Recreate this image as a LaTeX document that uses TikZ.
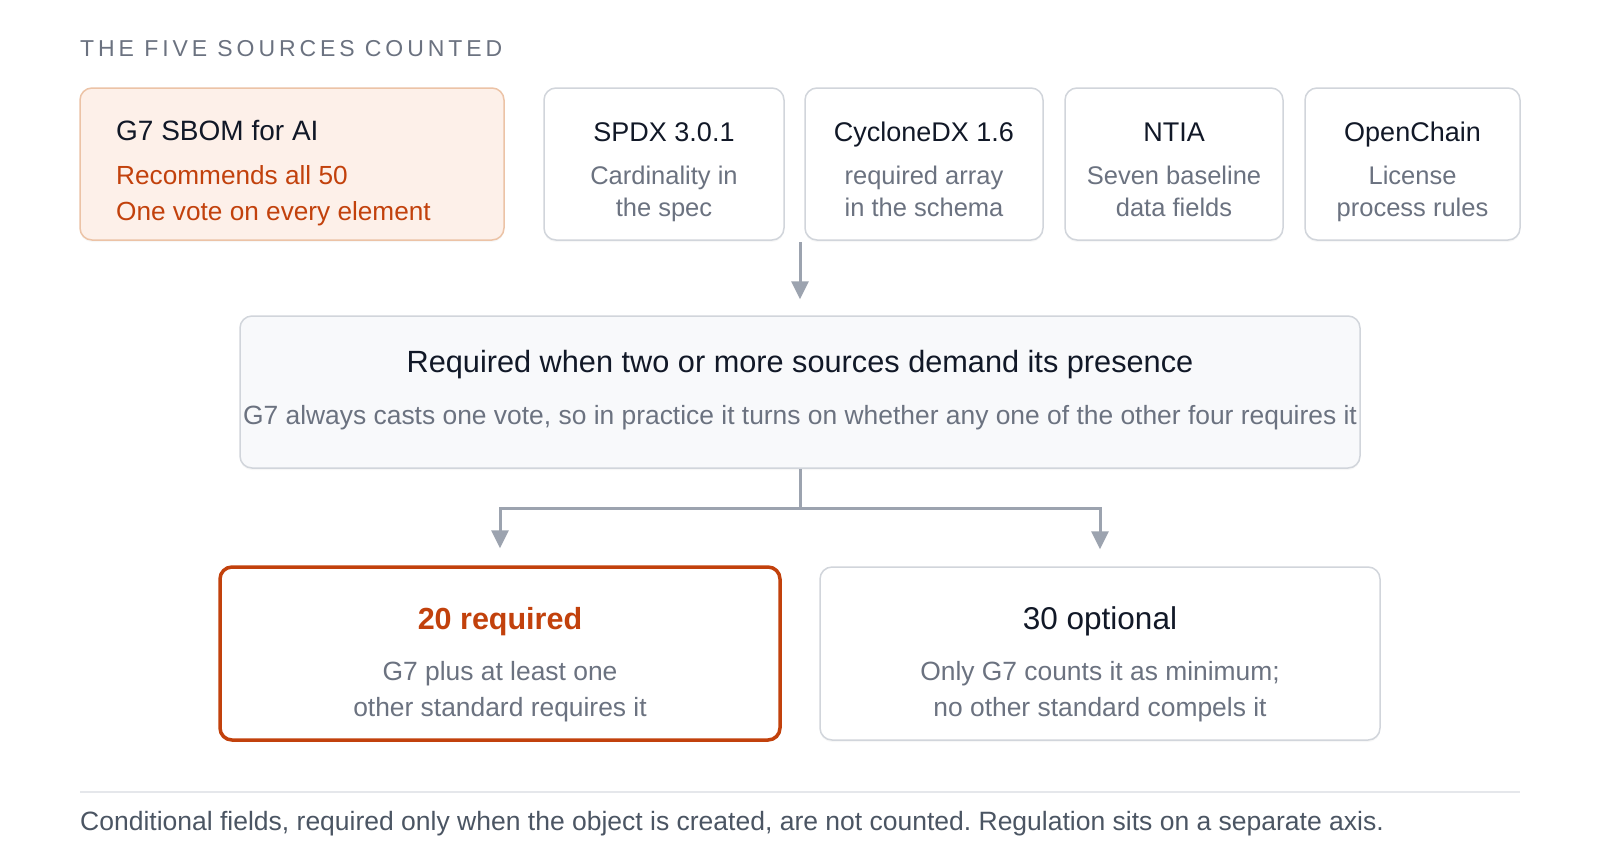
\documentclass[tikz,border=0pt]{standalone}
\usepackage{fontspec}
\setmainfont{Liberation Sans}
\usetikzlibrary{arrows.meta,shadows}
\definecolor{ink}{HTML}{111827}
\definecolor{muted}{HTML}{6B7280}
\definecolor{hot}{HTML}{C2410C}
\definecolor{hotfill}{HTML}{FDF0E9}
\definecolor{hotedge}{HTML}{ECC3A6}
\definecolor{edge}{HTML}{D1D5DB}
\definecolor{panel}{HTML}{F8F9FB}
\definecolor{wire}{HTML}{9CA3AF}
\definecolor{rulegray}{HTML}{E5E7EB}
\definecolor{foot}{HTML}{4B5563}
\frenchspacing
\begin{document}
\begin{tikzpicture}[x=1pt,y=-1pt,
  box/.style={draw=edge,line width=1.5pt,rounded corners=12pt,fill=white,
    minimum height=152pt,inner sep=0pt,
    drop shadow={shadow xshift=0pt,shadow yshift=-2pt,opacity=.06}},
  ttl/.style={anchor=base,inner sep=0pt,text=ink,font=\fontsize{27}{32}\selectfont},
  sub/.style={anchor=base,inner sep=0pt,text=muted,font=\fontsize{25.5}{30}\selectfont},
  conn/.style={draw=wire,line width=3pt},
  arr/.style={conn,-{Triangle[length=18pt,width=17pt]}}]
\fill[white] (0,0) rectangle (1600,860);
\node[anchor=base west,inner sep=0pt,text=muted,
  font=\fontsize{23}{26}\selectfont\addfontfeature{LetterSpace=17}] (hdr) at (80,56) {THE FIVE SOURCES COUNTED};
\node[box,draw=hotedge,fill=hotfill,minimum width=424pt] (g7) at (292,164) {};
\node[ttl,anchor=base west,font=\fontsize{28}{32}\selectfont] (g7t) at (116,140) {G7 SBOM for AI};
\node[sub,anchor=base west,text=hot,font=\fontsize{26.2}{30}\selectfont] (g7a) at (116,184) {Recommends all 50};
\node[sub,anchor=base west,text=hot,font=\fontsize{26.2}{30}\selectfont] (g7b) at (116,220) {One vote on every element};
\node[box,minimum width=240pt] (spdx) at (664,164) {};
\node[ttl] (spdxt) at (664,141) {SPDX 3.0.1};
\node[sub] (spdxa) at (664,184) {Cardinality in};
\node[sub] (spdxb) at (664,216) {the spec};
\node[box,minimum width=238pt] (cdx) at (924,164) {};
\node[ttl] (cdxt) at (924,141) {CycloneDX 1.6};
\node[sub] (cdxa) at (924,184) {required array};
\node[sub] (cdxb) at (924,216) {in the schema};
\node[box,minimum width=218pt] (ntia) at (1174,164) {};
\node[ttl] (ntiat) at (1174,141) {NTIA};
\node[sub] (ntiaa) at (1174,184) {Seven baseline};
\node[sub] (ntiab) at (1174,216) {data fields};
\node[box,minimum width=215pt] (oc) at (1412.5,164) {};
\node[ttl] (oct) at (1412.5,141) {OpenChain};
\node[sub] (oca) at (1412.5,184) {License};
\node[sub] (ocb) at (1412.5,216) {process rules};
\node[box,fill=panel,drop shadow={opacity=0},minimum width=1120pt] (rule) at (800,392) {};
\node[ttl,font=\fontsize{30.7}{36}\selectfont] (rulet) at (800,372) {Required when two or more sources demand its presence};
\node[sub,font=\fontsize{26.4}{30}\selectfont] (rulea) at (800,424) {G7 always casts one vote, so in practice it turns on whether any one of the other four requires it};
\coordinate (srcs) at (800,242);
\draw[arr,shorten >=16pt] (srcs) -- (rule.north);
\node[box,draw=hot,line width=3.5pt,drop shadow={opacity=0},minimum width=560pt,minimum height=173pt] (req) at (500,653.5) {};
\node[ttl,text=hot,font=\fontsize{30.5}{36}\selectfont\bfseries] (reqt) at (500,629) {20 required};
\node[sub,font=\fontsize{26.4}{30}\selectfont] (reqa) at (500,680) {G7 plus at least one};
\node[sub,font=\fontsize{26.4}{30}\selectfont] (reqb) at (500,716) {other standard requires it};
\node[box,drop shadow={opacity=0},minimum width=560pt,minimum height=173pt] (opt) at (1100,653.5) {};
\node[ttl,font=\fontsize{31.5}{36}\selectfont] (optt) at (1100,629) {30 optional};
\node[sub,font=\fontsize{26.4}{30}\selectfont] (opta) at (1100,680) {Only G7 counts it as minimum;};
\node[sub,font=\fontsize{26.4}{30}\selectfont] (optb) at (1100,716) {no other standard compels it};
\coordinate (fork) at (800,508);
\draw[conn] (rule.south) -- (fork);
\draw[arr,shorten >=17pt] (fork) -| (req.north);
\draw[arr,shorten >=17pt] (fork) -| (opt.north);
\draw[rulegray,line width=1.5pt] (80,792) -- (1520,792);
\node[anchor=base west,inner sep=0pt,text=foot,font=\fontsize{26.5}{30}\selectfont] (note) at (80,830) {Conditional fields, required only when the object is created, are not counted. Regulation sits on a separate axis.};
\end{tikzpicture}
\end{document}
